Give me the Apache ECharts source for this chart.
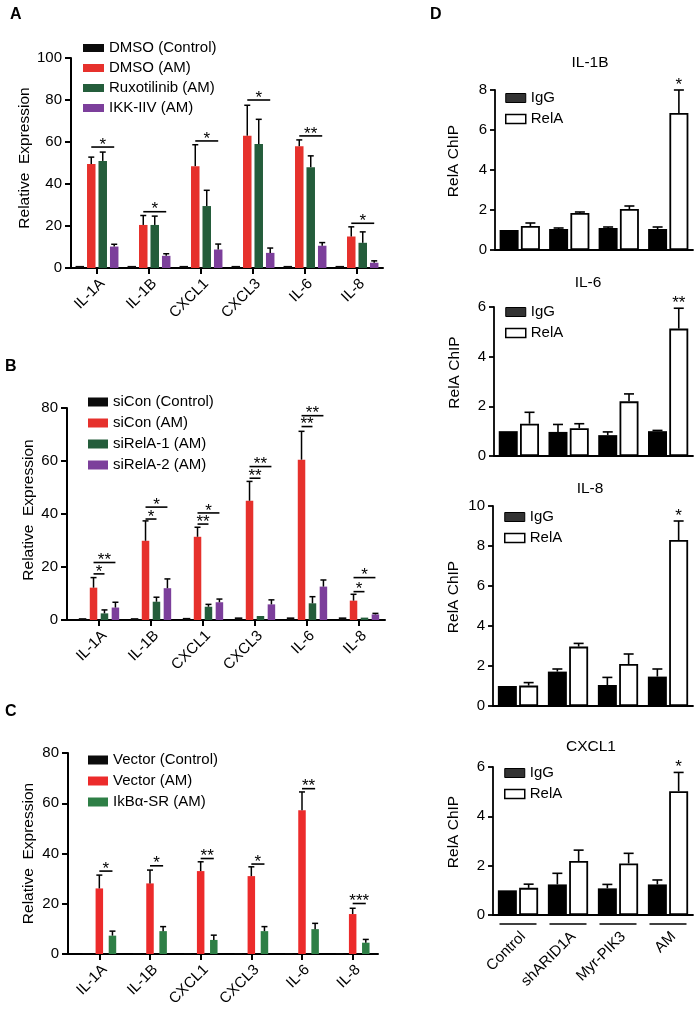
<!DOCTYPE html>
<html>
<head>
<meta charset="utf-8">
<title>RelA expression and ChIP</title>
<script src="https://cdn.jsdelivr.net/npm/echarts@6/dist/echarts.min.js"></script>
<style>
  html, body { margin: 0; padding: 0; background: #fff; }
  #main { width: 700px; height: 1011px; }
</style>
</head>
<body>
<div id="main"></div>
<script>
// ---------- data ----------
const genes = ['IL-1A', 'IL-1B', 'CXCL1', 'CXCL3', 'IL-6', 'IL-8'];

// A: inhibitors
const namesA = ['DMSO (Control)', 'DMSO (AM)', 'Ruxotilinib (AM)', 'IKK-IIV (AM)'];
const ctrlA = [1, 1, 1, 1, 1, 1];
const dmsoA = [49.5, 20.5, 48.5, 63, 58, 15];
const ruxoA = [51, 20.5, 29.5, 59, 48, 12];
const ikkA = [10.2, 5.8, 8.8, 7.2, 10.6, 2.5];
const dmsoErrA = [3.3, 4.5, 10.2, 14.5, 3, 4.6];
const ruxoErrA = [4.2, 4.2, 7.5, 11.8, 5.4, 5.2];
const ikkErrA = [1.1, 1, 2.6, 2.3, 1.5, 0.9];
const sigYA = [57.6, 26.8, 60.5, 80, 62.9, 21.3];
const sigA = ['*', '*', '*', '*', '**', '*'];

// B: siRNA
const namesB = ['siCon (Control)', 'siCon (AM)', 'siRelA-1 (AM)', 'siRelA-2 (AM)'];
const ctrlB = [0.7, 0.7, 0.8, 1, 1, 1];
const siConB = [12.2, 29.9, 31.4, 45, 60.5, 7.3];
const siRel1B = [2.5, 6.9, 5, 1.5, 6.3, 0.9];
const siRel2B = [4.7, 12, 6.7, 5.9, 12.6, 2.1];
const siConErrB = [3.8, 7.5, 3.6, 7.3, 10.7, 2.4];
const siRel1ErrB = [1.3, 1.7, 0.9, 0, 2.5, 0];
const siRel2ErrB = [2, 3.5, 1.2, 1.7, 2.5, 0.4];
const sigLowYB = [17.4, 38.1, 36.2, 53.5, 73, 10.7];
const sigLowB = ['*', '*', '**', '**', '**', '*'];
const sigHighYB = [21.7, 42.6, 40.4, 57.9, 77.1, 16];
const sigHighB = ['**', '*', '*', '**', '**', '*'];

// C: IkBa super-repressor
const namesC = ['Vector (Control)', 'Vector (AM)', 'IkBα-SR (AM)'];
const ctrlC = [0.3, 0.3, 0.3, 0.3, 0.3, 0.3];
const vecC = [26.1, 28.1, 33, 31, 57.2, 15.9];
const srC = [7.3, 9.1, 5.6, 9.1, 9.9, 4.5];
const vecErrC = [5.3, 5.3, 3.7, 3.7, 7.3, 2.3];
const srErrC = [1.8, 1.8, 1.9, 1.8, 2.3, 1.3];
const sigYC = [33, 35.1, 38, 35.8, 65.8, 20.1];
const sigC = ['*', '*', '**', '*', '**', '***'];

// D: RelA ChIP
const groupsD = ['Control', 'shARID1A', 'Myr-PIK3', 'AM'];
const iggIL1B = [1.0, 1.05, 1.1, 1.05];
const iggErrIL1B = [0, 0.05, 0.05, 0.1];
const relaIL1B = [1.2, 1.85, 2.05, 6.85];
const relaErrIL1B = [0.15, 0.05, 0.15, 1.15];
const starIL1B = ['', '', '', '*'];

const iggIL6 = [1.0, 0.97, 0.84, 1.0];
const iggErrIL6 = [0, 0.3, 0.13, 0.03];
const relaIL6 = [1.3, 1.12, 2.2, 5.13];
const relaErrIL6 = [0.46, 0.18, 0.3, 0.82];
const starIL6 = ['', '', '', '**'];

const iggIL8 = [1.0, 1.72, 1.05, 1.47];
const iggErrIL8 = [0, 0.13, 0.38, 0.38];
const relaIL8 = [1.02, 2.97, 2.1, 8.3];
const relaErrIL8 = [0.15, 0.16, 0.5, 0.95];
const starIL8 = ['', '', '', '*'];

const iggCXCL1 = [1.0, 1.24, 1.08, 1.24];
const iggErrCXCL1 = [0, 0.45, 0.16, 0.18];
const relaCXCL1 = [1.1, 2.19, 2.09, 5.02];
const relaErrCXCL1 = [0.15, 0.44, 0.41, 0.76];
const starCXCL1 = ['', '', '', '*'];

// ---------- chart ----------
const FONT = 'Liberation Sans, Arial, Helvetica, sans-serif';
const RED = '#e6312c', GREEN = '#245d3b', GREEN_C = '#2e7f46', PURPLE = '#7c3f9b', BLACK = '#0b0b0b';

const option = {
  animation: false,
  backgroundColor: '#fff',
  textStyle: { fontFamily: FONT, color: '#000' },
  title: [], grid: [], xAxis: [], yAxis: [], legend: [], series: []
};

function addPanel(p) {
  const gi = option.grid.length;
  const n = p.series.length;
  const pitch = p.bw * (1 + p.gap);
  const off = i => (i - (n - 1) / 2) * pitch;
  const axisStyle = { color: '#000', width: p.lw };

  option.grid.push({ left: p.box[0], top: p.box[1], width: p.box[2], height: p.box[3] });
  option.xAxis.push({
    type: 'category', gridIndex: gi, data: p.cats,
    axisLine: { show: !p.yShift, lineStyle: axisStyle },
    axisTick: { show: p.xTicks, alignWithLabel: true, length: 6, lineStyle: axisStyle },
    axisLabel: {
      show: p.xLabels, rotate: 45, interval: 0, margin: p.labelMargin, fontSize: p.fs, color: '#000',
      verticalAlign: 'top'
    }
  });
  option.yAxis.push({
    type: 'value', gridIndex: gi, min: 0, max: p.max, interval: p.interval, offset: p.yShift || 0,
    name: p.yName, nameLocation: 'middle', nameGap: p.nameGap,
    nameTextStyle: { fontSize: p.nameFs, color: '#000', padding: p.namePad || 0 },
    axisLine: { show: true, lineStyle: axisStyle },
    axisTick: { show: true, length: p.yTick, lineStyle: axisStyle },
    axisLabel: { margin: p.yTick + 3, fontSize: p.fs, color: '#000' },
    splitLine: { show: false }
  });

  // x axis line reaching back to the shifted y axis
  if (p.yShift) {
    const li = option.grid.length;
    option.grid.push({ left: p.box[0] - p.yShift, top: p.box[1] + p.box[3] - 1, width: p.box[2] + p.yShift, height: 1 });
    option.xAxis.push({
      type: 'value', gridIndex: li, min: 0, max: 1,
      axisLine: { show: true, onZero: false, lineStyle: axisStyle },
      axisTick: { show: false }, axisLabel: { show: false }, splitLine: { show: false }
    });
    option.yAxis.push({ type: 'value', gridIndex: li, show: false });
  }

  p.series.forEach(s => {
    option.series.push({
      type: 'bar', name: s.name, xAxisIndex: gi, yAxisIndex: gi, data: s.data,
      barWidth: p.bw, barGap: (p.gap * 100) + '%', silent: true,
      itemStyle: { color: s.color, borderColor: s.border || s.color, borderWidth: s.border ? p.borderW : 0 }
    });
  });

  // error bars (upper only)
  const errData = [];
  p.series.forEach((s, si) => {
    s.data.forEach((v, ci) => {
      if (s.err && s.err[ci] > 0) errData.push([ci, v, v + s.err[ci], si]);
    });
  });
  option.series.push({
    type: 'custom', xAxisIndex: gi, yAxisIndex: gi, data: errData, silent: true, z: 3,
    encode: { x: 0, y: [1, 2] },
    renderItem: (params, api) => {
      const ci = api.value(0);
      const base = api.coord([ci, api.value(1)]);
      const top = api.coord([ci, api.value(2)]);
      const x = base[0] + off(api.value(3));
      const c = p.cap / 2;
      const st = { stroke: '#000', lineWidth: p.elw };
      return {
        type: 'group', children: [
          { type: 'line', shape: { x1: x, y1: base[1], x2: x, y2: top[1] }, style: st },
          { type: 'line', shape: { x1: x - c, y1: top[1], x2: x + c, y2: top[1] }, style: st }
        ]
      };
    }
  });

  // significance lines and stars
  (p.sigs || []).forEach(sg => {
    option.series.push({
      type: 'custom', xAxisIndex: gi, yAxisIndex: gi, silent: true, z: 4,
      data: sg.y.map((y, ci) => [ci, y]),
      encode: { x: 0, y: 1 },
      renderItem: (params, api) => {
        const txt = sg.text[params.dataIndex];
        if (!txt) return null;
        const pt = api.coord([api.value(0), api.value(1)]);
        const x1 = pt[0] + off(sg.from), x2 = pt[0] + off(sg.to);
        const children = [];
        if (sg.from !== sg.to) {
          children.push({ type: 'line', shape: { x1: x1, y1: pt[1], x2: x2, y2: pt[1] }, style: { stroke: '#000', lineWidth: 1.6 } });
        }
        children.push({
          type: 'text', x: (x1 + x2) / 2, y: pt[1] - sg.lift,
          style: { text: txt, fill: '#000', fontSize: 17, fontFamily: FONT, align: 'center', verticalAlign: 'middle' }
        });
        return { type: 'group', children: children };
      }
    });
  });

  // group underlines beneath the axis
  if (p.underline) {
    option.series.push({
      type: 'custom', xAxisIndex: gi, yAxisIndex: gi, silent: true,
      data: p.cats.map((c, ci) => [ci, 0]),
      encode: { x: 0, y: 1 },
      renderItem: (params, api) => {
        const pt = api.coord([api.value(0), 0]);
        const h = p.underline / 2;
        return { type: 'line', shape: { x1: pt[0] - h, y1: pt[1] + 9, x2: pt[0] + h, y2: pt[1] + 9 }, style: { stroke: '#000', lineWidth: 1.6 } };
      }
    });
  }

  option.legend.push({
    orient: 'vertical', left: p.leg[0], top: p.leg[1], itemWidth: p.leg[2], itemHeight: p.leg[3], itemGap: p.leg[4],
    icon: 'rect', selectedMode: false, padding: 0,
    textStyle: { fontSize: 15, color: '#000', lineHeight: 16, fontFamily: FONT },
    data: p.series.map(s => ({
      name: s.name,
      itemStyle: { color: s.legColor || s.color, borderColor: s.border || '#000', borderWidth: s.border ? 1.5 : (s.legColor ? 1 : 0) }
    }))
  });
}

// A
addPanel({
  box: [71, 58, 312, 210], cats: genes, max: 100, interval: 20, lw: 2, fs: 15, yTick: 6,
  xTicks: true, xLabels: true, labelMargin: 8,
  yName: 'Relative  Expression', nameGap: 34, nameFs: 15.5, namePad: [0, 0, 0, 10],
  bw: 8.5, gap: 0.35, cap: 6, elw: 1.5,
  series: [
    { name: namesA[0], data: ctrlA, color: BLACK },
    { name: namesA[1], data: dmsoA, err: dmsoErrA, color: RED },
    { name: namesA[2], data: ruxoA, err: ruxoErrA, color: GREEN },
    { name: namesA[3], data: ikkA, err: ikkErrA, color: PURPLE }
  ],
  sigs: [{ y: sigYA, text: sigA, from: 1, to: 3, lift: 2 }],
  leg: [83, 40, 21, 8, 4]
});

// B
addPanel({
  box: [73, 408, 312, 212], yShift: 6, cats: genes, max: 80, interval: 20, lw: 2, fs: 15, yTick: 6,
  xTicks: true, xLabels: true, labelMargin: 8,
  yName: 'Relative  Expression', nameGap: 30, nameFs: 15.5, namePad: [0, 0, 0, 8],
  bw: 7.5, gap: 0.46, cap: 6, elw: 1.5,
  series: [
    { name: namesB[0], data: ctrlB, color: BLACK },
    { name: namesB[1], data: siConB, err: siConErrB, color: RED },
    { name: namesB[2], data: siRel1B, err: siRel1ErrB, color: GREEN },
    { name: namesB[3], data: siRel2B, err: siRel2ErrB, color: PURPLE }
  ],
  sigs: [
    { y: sigLowYB, text: sigLowB, from: 1, to: 2, lift: 2 },
    { y: sigHighYB, text: sigHighB, from: 1, to: 3, lift: 2 }
  ],
  leg: [88, 394, 20, 9, 5]
});

// C
addPanel({
  box: [74, 753, 304, 201], yShift: 6, cats: genes, max: 80, interval: 20, lw: 2, fs: 15, yTick: 6,
  xTicks: true, xLabels: true, labelMargin: 8,
  yName: 'Relative  Expression', nameGap: 31, nameFs: 15.5,
  bw: 7.5, gap: 0.75, cap: 6, elw: 1.5,
  series: [
    { name: namesC[0], data: ctrlC, color: BLACK },
    { name: namesC[1], data: vecC, err: vecErrC, color: '#ec2b2b' },
    { name: namesC[2], data: srC, err: srErrC, color: GREEN_C }
  ],
  sigs: [{ y: sigYC, text: sigC, from: 1, to: 2, lift: 2 }],
  leg: [88, 752, 20, 9, 5]
});

// D panels
function addChip(box, igg, iggErr, rela, relaErr, stars, max, leg, opts) {
  addPanel(Object.assign({
    box: box, cats: groupsD, max: max, interval: 2, lw: 1.8, fs: 15, yTick: 5,
    xTicks: false, xLabels: false, labelMargin: 14,
    yName: 'RelA ChIP', nameGap: 31, nameFs: 15.5, namePad: [0, 0, 0, 18],
    bw: 19, gap: 0.12, cap: 10, elw: 1.6, borderW: 1.8,
    series: [
      { name: 'IgG', data: igg, err: iggErr, color: '#000', legColor: '#333' },
      { name: 'RelA', data: rela, err: relaErr, color: '#fff', border: '#000' }
    ],
    sigs: [{ y: rela.map((v, i) => v + relaErr[i]), text: stars, from: 1, to: 1, lift: 5 }],
    leg: leg
  }, opts || {}));
}
addChip([495, 90, 198, 160], iggIL1B, iggErrIL1B, relaIL1B, relaErrIL1B, starIL1B, 8, [505, 90, 20, 9, 5], { nameGap: 33 });
addChip([494, 307, 199, 149], iggIL6, iggErrIL6, relaIL6, relaErrIL6, starIL6, 6, [505, 304, 20, 9, 5]);
addChip([493, 506, 200, 200], iggIL8, iggErrIL8, relaIL8, relaErrIL8, starIL8, 10, [504, 509, 20, 9, 5]);
addChip([493, 767, 200, 148], iggCXCL1, iggErrCXCL1, relaCXCL1, relaErrCXCL1, starCXCL1, 6, [504, 765, 20, 9, 5],
  { xLabels: true, underline: 37 });

// panel letters and ChIP titles
const letter = { fontSize: 16, fontWeight: 'bold', color: '#000', fontFamily: FONT };
const sub = { fontSize: 15.5, fontWeight: 'normal', color: '#000', fontFamily: FONT };
option.title.push(
  { text: 'A', left: 10, top: 7, padding: 0, textStyle: letter },
  { text: 'B', left: 5, top: 359, padding: 0, textStyle: letter },
  { text: 'C', left: 5, top: 704, padding: 0, textStyle: letter },
  { text: 'D', left: 430, top: 7, padding: 0, textStyle: letter },
  { text: 'IL-1B', left: 590, top: 55, padding: 0, textAlign: 'center', textStyle: sub },
  { text: 'IL-6', left: 588, top: 275, padding: 0, textAlign: 'center', textStyle: sub },
  { text: 'IL-8', left: 590, top: 481, padding: 0, textAlign: 'center', textStyle: sub },
  { text: 'CXCL1', left: 591, top: 739, padding: 0, textAlign: 'center', textStyle: sub }
);

const chart = echarts.init(document.getElementById('main'), null, { renderer: 'canvas' });
chart.setOption(option);
window.addEventListener('resize', () => chart.resize());
</script>
</body>
</html>
